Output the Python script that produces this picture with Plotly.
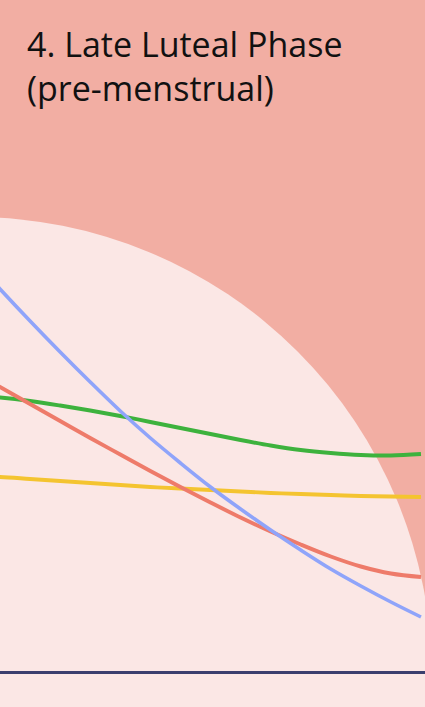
import plotly.graph_objects as go

# Cycle days shown in this crop of the chart (late luteal phase).
days = [20.5, 21, 21.5, 22, 22.5, 23, 23.5, 24, 24.5, 25, 25.5, 26, 26.5, 27, 27.5, 28]

# Relative hormone levels.
blue_levels = [83.2, 76.6, 70.2, 64.0, 58.0, 52.2, 46.8, 41.8, 37.0, 32.6, 28.4, 24.4, 20.6, 17.2, 14.0, 11.0]
red_levels = [60.4, 57.0, 53.6, 50.2, 46.8, 43.5, 40.2, 37.0, 33.9, 30.9, 28.1, 25.5, 23.1, 21.1, 19.7, 19.0]
green_levels = [55.4, 54.9, 54.2, 53.3, 52.3, 51.2, 50.0, 48.8, 47.6, 46.4, 45.3, 44.4, 43.8, 43.4, 43.3, 43.6]
yellow_levels = [39.2, 39.0, 38.6, 38.2, 37.8, 37.4, 37.0, 36.7, 36.4, 36.1, 35.8, 35.6, 35.4, 35.2, 35.1, 35.0]

title_lines = ["4. Late Luteal Phase", "(pre-menstrual)"]

W, H = 425, 707
SALMON = "#F2AEA3"
LIGHT_PINK = "#FBE7E5"
NAVY = "#3B3F6E"

series = [
    (green_levels, "#3DB23D", 3.9),
    (yellow_levels, "#F4C430", 3.9),
    (red_levels, "#EE7B6A", 3.9),
    (blue_levels, "#8FA4FA", 3.6),
]

fig = go.Figure()
for levels, color, width in series:
    fig.add_trace(
        go.Scatter(
            x=days,
            y=levels,
            mode="lines",
            line=dict(color=color, width=width, shape="spline", smoothing=1),
            hoverinfo="skip",
        )
    )

# Big pale disc behind the curves (centre and radius in pixels).
cx, cy, r = -27, 676, 459
fig.add_shape(
    type="circle",
    xref="paper",
    yref="paper",
    x0=(cx - r) / W,
    x1=(cx + r) / W,
    y0=1 - (cy + r) / H,
    y1=1 - (cy - r) / H,
    fillcolor=LIGHT_PINK,
    line=dict(width=0),
    layer="below",
)

fig.add_annotation(
    text="<br>".join(title_lines),
    xref="paper",
    yref="paper",
    x=25 / W,
    y=1 - 19 / H,
    xanchor="left",
    yanchor="top",
    align="left",
    showarrow=False,
    font=dict(family="Open Sans", size=34, color="#111111"),
)

fig.update_layout(
    width=W,
    height=H,
    margin=dict(l=0, r=0, t=0, b=0),
    paper_bgcolor=SALMON,
    plot_bgcolor="rgba(0,0,0,0)",
    showlegend=False,
    xaxis=dict(
        range=[21, 28.067],
        showgrid=False,
        zeroline=False,
        showticklabels=False,
        fixedrange=True,
    ),
    yaxis=dict(
        range=[-7, 134.4],
        showgrid=False,
        zeroline=True,
        zerolinecolor=NAVY,
        zerolinewidth=2.5,
        showticklabels=False,
        fixedrange=True,
    ),
)

fig.write_html(
    "out.html",
    config={"displayModeBar": False},
    post_script="document.body.style.margin = '0';",
)
